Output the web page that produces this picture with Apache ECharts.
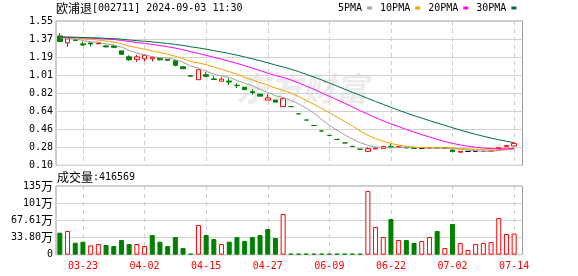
<!DOCTYPE html>
<html><head><meta charset="utf-8">
<script src="https://cdn.jsdelivr.net/npm/echarts@6/dist/echarts.min.js"></script>
<style>html,body{margin:0;padding:0;background:#fff}#c{width:578px;height:276px}</style>
</head><body><div id="c"></div>
<script>
// ---------------- data ----------------
const stockName = '欧浦退';
const stockInfo = '[002711] 2024-09-03 11:30';
const volLabel = '成交量';
const volLast = ':416569';
const maNames = ['5PMA', '10PMA', '20PMA', '30PMA'];
const dates = ['03-18','03-19','03-20','03-23','03-24','03-25','03-26','03-27','03-30','03-31',
  '04-01','04-02','04-03','04-07','04-08','04-09','04-10','04-13','04-14','04-15',
  '04-16','04-17','04-20','04-21','04-22','04-23','04-24','04-27','04-28','04-29',
  '04-30','06-03','06-04','06-05','06-08','06-09','06-10','06-11','06-12','06-15',
  '06-16','06-17','06-18','06-22','06-23','06-24','06-25','06-26','06-29','06-30',
  '07-01','07-02','07-03','07-06','07-07','07-08','07-09','07-10','07-13','07-14'];
const prevClose = 1.40;
const opens = [1.40,1.33,1.36,1.32,1.33,1.322,1.30,1.30,1.25,1.19,
  1.165,1.17,1.17,1.175,1.165,1.15,1.09,1.00,0.96,1.01,
  0.968,0.945,0.947,0.905,0.885,0.84,0.815,0.755,0.755,0.69,
  0.69,0.617,0.555,0.50,0.445,0.40,0.36,0.325,0.29,0.262,
  0.24,0.265,0.267,0.29,0.282,0.28,0.275,0.27,0.272,0.276,
  0.274,0.254,0.232,0.24,0.24,0.24,0.24,0.264,0.287,0.294];
const closes = [1.345,1.37,1.355,1.31,1.32,1.328,1.29,1.285,1.215,1.16,
  1.19,1.205,1.185,1.16,1.155,1.105,1.07,0.995,1.06,0.995,
  0.962,0.966,0.937,0.90,0.86,0.83,0.795,0.777,0.735,0.77,
  0.69,0.617,0.555,0.50,0.445,0.40,0.36,0.325,0.29,0.262,
  0.267,0.272,0.29,0.283,0.288,0.274,0.27,0.27,0.278,0.274,
  0.274,0.237,0.24,0.24,0.24,0.24,0.244,0.277,0.297,0.32];
const lows = [1.34,1.29,1.35,1.30,1.295,1.318,1.285,1.28,1.215,1.15,
  1.14,1.145,1.145,1.155,1.155,1.095,1.07,0.995,0.96,0.985,
  0.962,0.945,0.905,0.875,0.86,0.81,0.795,0.755,0.735,0.69,
  0.69,0.617,0.555,0.50,0.445,0.40,0.36,0.325,0.29,0.262,
  0.237,0.263,0.265,0.28,0.28,0.272,0.268,0.268,0.27,0.27,
  0.272,0.235,0.225,0.238,0.238,0.238,0.238,0.262,0.285,0.292];
const highs = [1.43,1.37,1.37,1.345,1.335,1.335,1.31,1.315,1.25,1.205,
  1.21,1.205,1.195,1.18,1.165,1.15,1.09,1.00,1.06,1.035,
  1.00,0.985,0.975,0.925,0.885,0.865,0.815,0.815,0.755,0.77,
  0.69,0.617,0.555,0.50,0.445,0.40,0.36,0.325,0.29,0.262,
  0.281,0.28,0.294,0.32,0.295,0.282,0.276,0.273,0.28,0.285,
  0.276,0.256,0.242,0.242,0.242,0.242,0.25,0.278,0.30,0.325];
const volumes = [433000,466000,236000,256000,184000,210000,190000,171000,289000,210000,
  210000,171000,387000,256000,171000,348000,131000,13000,584000,387000,
  308000,210000,256000,348000,269000,348000,387000,505000,328000,800000,
  8000,6000,6000,6000,6000,6000,6000,6000,6000,6000,
  1253000,544000,348000,702000,289000,289000,230000,269000,348000,466000,
  131000,604000,230000,92000,210000,230000,249000,722000,407000,416569];
const ma5 = [1.381,1.377,1.370,1.354,1.340,1.337,1.321,1.307,1.288,1.256,
  1.228,1.211,1.191,1.180,1.179,1.162,1.135,1.097,1.077,1.045,
  1.016,0.996,0.984,0.952,0.925,0.899,0.864,0.832,0.799,0.781,
  0.753,0.718,0.673,0.626,0.561,0.503,0.452,0.406,0.364,0.327,
  0.301,0.283,0.276,0.275,0.280,0.281,0.281,0.277,0.276,0.273,
  0.273,0.267,0.261,0.253,0.246,0.239,0.241,0.248,0.260,0.276];
const ma10 = [1.386,1.384,1.380,1.372,1.365,1.359,1.349,1.338,1.321,1.298,
  1.282,1.266,1.249,1.234,1.217,1.195,1.173,1.144,1.129,1.112,
  1.089,1.065,1.041,1.015,0.985,0.958,0.930,0.908,0.876,0.853,
  0.826,0.791,0.753,0.713,0.671,0.628,0.585,0.540,0.495,0.444,
  0.402,0.368,0.341,0.319,0.304,0.291,0.282,0.277,0.276,0.277,
  0.277,0.274,0.268,0.264,0.259,0.256,0.253,0.254,0.256,0.260];
const ma20 = [1.388,1.387,1.385,1.381,1.378,1.374,1.369,1.364,1.355,1.344,
  1.334,1.325,1.314,1.303,1.291,1.277,1.261,1.241,1.225,1.205,
  1.186,1.166,1.145,1.124,1.101,1.076,1.052,1.026,1.002,0.983,
  0.958,0.928,0.897,0.864,0.828,0.793,0.758,0.724,0.686,0.649,
  0.614,0.579,0.547,0.516,0.488,0.460,0.434,0.408,0.385,0.361,
  0.339,0.320,0.305,0.292,0.281,0.273,0.268,0.265,0.266,0.269];
const ma30 = [1.389,1.388,1.387,1.384,1.382,1.380,1.376,1.373,1.367,1.359,
  1.353,1.346,1.340,1.332,1.324,1.315,1.304,1.291,1.280,1.267,
  1.252,1.238,1.223,1.207,1.189,1.170,1.151,1.130,1.108,1.088,
  1.066,1.041,1.014,0.987,0.958,0.927,0.896,0.864,0.833,0.803,
  0.772,0.741,0.712,0.682,0.653,0.626,0.599,0.575,0.549,0.525,
  0.502,0.477,0.454,0.432,0.411,0.392,0.373,0.357,0.342,0.327];
const priceTicks = ['0.10','0.28','0.46','0.64','0.82','1.01','1.19','1.37','1.55'];
const volTicks = ['0','33.80万','67.61万','101万','135万'];
const priceMin = 0.10, priceMax = 1.55;
const volMax = 1352200;
const watermark = '东方财富';

// ---------------- styles ----------------
const RED = '#ff0000', GREEN = '#008000', BLACK = '#000000';
const MONO = "'DejaVu Sans Mono', monospace";
const CJK = "'Noto Sans CJK SC', sans-serif";
const maColors = ['#a0a0a0', '#f5a200', '#ff00ff', '#00703a'];
const labelEvery = (i) => i % 8 === 3;

const candleData = dates.map((d, i) => {
  const o = opens[i], c = closes[i];
  const pc = i > 0 ? closes[i - 1] : prevClose;
  let fill, border;
  if (c > o) { fill = '#ffffff'; border = RED; }
  else if (c < o) { fill = GREEN; border = GREEN; }
  else { const col = c < pc ? GREEN : (c > pc ? RED : BLACK); fill = col; border = col; }
  return { value: [o, c, lows[i], highs[i]],
    itemStyle: { color: fill, color0: fill, borderColor: border, borderColor0: border, borderColorDoji: border } };
});
const volData = volumes.map((v, i) => {
  const pc = i > 0 ? closes[i - 1] : prevClose;
  const up = closes[i] >= pc;
  return { value: v, itemStyle: up ? { color: '#ffffff', borderColor: RED, borderWidth: 1 }
                                    : { color: GREEN, borderColor: GREEN, borderWidth: 1 } };
});

const chart = echarts.init(document.getElementById('c'), null, { renderer: 'canvas' });
const gridBase = { left: 56, outerBoundsMode: 'none', containLabel: false };
const option = {
  animation: false,
  backgroundColor: '#ffffff',
  graphic: [
    { type: 'text', x: 56, y: 8.5, z: 10, style: { text: '{c|' + stockName + '}{a|' + stockInfo + '}', verticalAlign: 'middle',
      rich: { c: { fontFamily: CJK, fontSize: 12, fill: '#000' }, a: { fontFamily: MONO, fontSize: 10, fill: '#000' } } } },
    { type: 'text', x: 57, y: 177.5, z: 10, style: { text: '{c|' + volLabel + '}{a|' + volLast + '}', verticalAlign: 'middle',
      rich: { c: { fontFamily: CJK, fontSize: 12, fill: '#000' }, a: { fontFamily: MONO, fontSize: 10, fill: '#000' } } } },
    { type: 'text', x: 236, y: 72, z: 0, silent: true, style: { text: watermark, fontFamily: CJK, fontSize: 33, fontWeight: 'bold', fontStyle: 'italic', fill: '#ececec' } }
  ],
  legend: {
    left: 338, top: 3, padding: 0, itemWidth: 5, itemHeight: 3, itemGap: 8, align: 'right', icon: 'rect',
    selectedMode: false, data: maNames,
    textStyle: { fontFamily: MONO, fontSize: 10, color: '#000' }
  },
  grid: [
    Object.assign({ top: 21, width: 462, height: 144.3 }, gridBase),
    Object.assign({ top: 186, width: 462, height: 68.7 }, gridBase),
    Object.assign({ top: 21, width: 466.5, height: 144.3, show: true, borderColor: '#9a9a9a', borderWidth: 1, backgroundColor: 'transparent' }, gridBase),
    Object.assign({ top: 186, width: 466.5, height: 68.7, show: true, borderColor: '#9a9a9a', borderWidth: 1, backgroundColor: 'transparent' }, gridBase)
  ],
  xAxis: [
    { type: 'category', gridIndex: 0, data: dates, boundaryGap: true,
      axisLine: { show: false }, axisTick: { show: false }, axisLabel: { show: false },
      splitLine: { show: true, interval: labelEvery, alignWithLabel: true, lineStyle: { type: [4, 4], color: '#cccccc', width: 1 } } },
    { type: 'category', gridIndex: 1, data: dates, boundaryGap: true,
      axisLine: { show: false }, axisTick: { show: false },
      axisLabel: { show: true, interval: labelEvery, color: RED, fontFamily: MONO, fontSize: 10, margin: 7, hideOverlap: false },
      splitLine: { show: true, interval: labelEvery, alignWithLabel: true, lineStyle: { type: [4, 4], color: '#cccccc', width: 1 } } },
    { type: 'value', gridIndex: 2, min: 0, max: 1, show: false },
    { type: 'value', gridIndex: 3, min: 0, max: 1, show: false }
  ],
  yAxis: [
    { type: 'value', gridIndex: 0, min: priceMin, max: priceMax, show: false, splitLine: { show: false } },
    { type: 'value', gridIndex: 1, min: 0, max: volMax, show: false, splitLine: { show: false } },
    { type: 'value', gridIndex: 2, min: 0, max: priceTicks.length - 1, interval: 1,
      axisLine: { show: false }, axisTick: { show: false },
      axisLabel: { margin: 3, color: '#000', fontFamily: MONO, fontSize: 10, showMinLabel: true, showMaxLabel: true,
        formatter: (v) => priceTicks[Math.round(v)] },
      splitLine: { show: true, lineStyle: { color: '#d2d2d2', width: 1 } } },
    { type: 'value', gridIndex: 3, min: 0, max: volTicks.length - 1, interval: 1,
      axisLine: { show: false }, axisTick: { show: false },
      axisLabel: { margin: 3, color: '#000', showMinLabel: true, showMaxLabel: true,
        formatter: (v) => { const t = volTicks[Math.round(v)]; return t.endsWith('万') ? '{a|' + t.slice(0, -1) + '}{b|万}' : '{a|' + t + '}'; },
        rich: { a: { fontFamily: MONO, fontSize: 10, color: '#000' }, b: { fontFamily: CJK, fontSize: 12, color: '#000' } } },
      splitLine: { show: true, lineStyle: { color: '#d2d2d2', width: 1 } } }
  ],
  series: [
    { type: 'candlestick', name: 'K', xAxisIndex: 0, yAxisIndex: 0, barWidth: 5, data: candleData, z: 2 },
    { type: 'line', name: maNames[0], xAxisIndex: 0, yAxisIndex: 0, data: ma5, symbol: 'none', lineStyle: { width: 1, color: maColors[0] }, itemStyle: { color: maColors[0] }, z: 3 },
    { type: 'line', name: maNames[1], xAxisIndex: 0, yAxisIndex: 0, data: ma10, symbol: 'none', lineStyle: { width: 1, color: maColors[1] }, itemStyle: { color: maColors[1] }, z: 3 },
    { type: 'line', name: maNames[2], xAxisIndex: 0, yAxisIndex: 0, data: ma20, symbol: 'none', lineStyle: { width: 1, color: maColors[2] }, itemStyle: { color: maColors[2] }, z: 3 },
    { type: 'line', name: maNames[3], xAxisIndex: 0, yAxisIndex: 0, data: ma30, symbol: 'none', lineStyle: { width: 1, color: maColors[3] }, itemStyle: { color: maColors[3] }, z: 3 },
    { type: 'bar', name: 'VOL', xAxisIndex: 1, yAxisIndex: 1, barWidth: 5, barMinHeight: 1, data: volData, z: 2 }
  ]
};
chart.setOption(option);
</script>
</body></html>
